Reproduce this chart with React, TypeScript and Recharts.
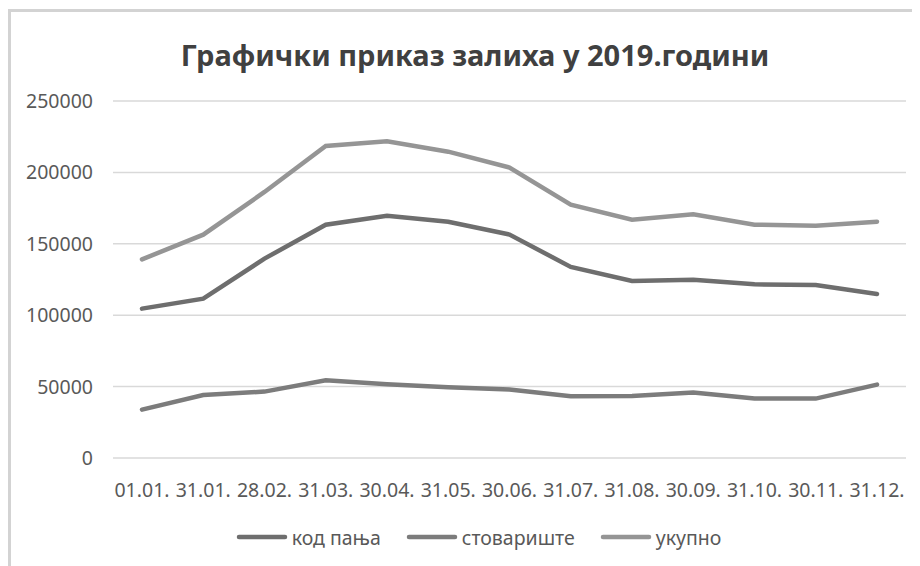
import React from 'react';
import { LineChart, Line, XAxis, YAxis, CartesianGrid, Legend } from 'recharts';

// Stock levels during 2019
const dates = ['01.01.', '31.01.', '28.02.', '31.03.', '30.04.', '31.05.', '30.06.', '31.07.', '31.08.', '30.09.', '31.10.', '30.11.', '31.12.'];
const kodPanja = [104600, 111600, 139600, 163400, 169700, 165400, 156500, 133800, 124000, 124900, 121600, 121200, 114900];
const stovariste = [33900, 44100, 46500, 54400, 51600, 49500, 47900, 43200, 43400, 45800, 41600, 41600, 51400];
const ukupno = [139100, 156400, 186300, 218500, 221800, 214500, 203400, 177400, 166900, 170600, 163400, 162700, 165500];
const yTicks = [0, 50000, 100000, 150000, 200000, 250000];

const data = dates.map((d, i) => ({
  date: d,
  kod: kodPanja[i],
  stov: stovariste[i],
  uk: ukupno[i],
}));

const FONT = '"Noto Sans", "Open Sans", sans-serif';
const TEXT = '#595959';

function LegendContent({ payload }: any) {
  return (
    <div style={{ display: 'flex', justifyContent: 'center', alignItems: 'center', height: 30, paddingLeft: 26, fontFamily: FONT, fontSize: 19.5, color: TEXT }}>
      {(payload || []).map((entry: any, i: number) => (
        <div key={entry.value} style={{ display: 'flex', alignItems: 'center', marginLeft: i ? 25 : 0 }}>
          <svg width={52} height={8} style={{ marginRight: 4 }}>
            <line x1={3} y1={4} x2={49} y2={4} stroke={entry.color} strokeWidth={4.5} strokeLinecap="round" />
          </svg>
          <span>{entry.value}</span>
        </div>
      ))}
    </div>
  );
}

export default function App() {
  return (
    <div style={{ position: 'relative', width: 909, height: 554, marginTop: 1, borderTop: '3px solid #d3d3d3', borderLeft: '3px solid #d3d3d3', background: '#fff' }}>
      <div style={{ position: 'absolute', top: 23, left: 0, width: 928, textAlign: 'center', fontFamily: FONT, fontWeight: 700, fontSize: 29, color: '#404040' }}>
        Графички приказ залиха у 2019.години
      </div>
      <LineChart width={909} height={554} data={data} margin={{ top: 89, right: 14, bottom: 38, left: 42 }}>
        <CartesianGrid vertical={false} stroke="#d9d9d9" strokeWidth={1.5} />
        <XAxis
          dataKey="date"
          axisLine={false}
          tickLine={false}
          tickSize={0}
          tickMargin={25}
          height={40}
          interval={0}
          padding={{ left: 29, right: 29 }}
          tick={{ fontSize: 19.5, fill: TEXT, fontFamily: FONT }}
        />
        <YAxis
          domain={[0, 250000]}
          ticks={yTicks}
          axisLine={false}
          tickLine={false}
          tickSize={0}
          tickMargin={20}
          width={60}
          tick={{ fontSize: 19.5, fill: TEXT, fontFamily: FONT }}
        />
        <Legend content={<LegendContent />} wrapperStyle={{ top: 510, left: 0, width: 909, height: 30 }} />
        <Line dataKey="kod" name="код пања" stroke="#6e6e6e" strokeWidth={4.5} dot={false} strokeLinecap="round" isAnimationActive={false} />
        <Line dataKey="stov" name="стовариште" stroke="#7c7c7c" strokeWidth={4.5} dot={false} strokeLinecap="round" isAnimationActive={false} />
        <Line dataKey="uk" name="укупно" stroke="#959595" strokeWidth={4.5} dot={false} strokeLinecap="round" isAnimationActive={false} />
      </LineChart>
    </div>
  );
}
